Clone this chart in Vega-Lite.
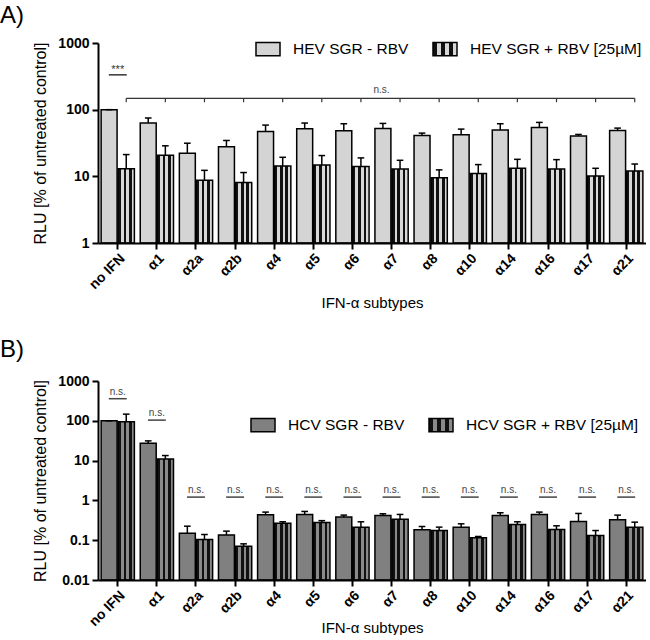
{
  "$schema": "https://vega.github.io/schema/vega-lite/v6.json",
  "padding": {"top": 4, "left": 0, "right": 0, "bottom": 0},
  "background": "white",
  "config": {
    "font": "Liberation Sans",
    "view": {"stroke": null},
    "axis": {"grid": false, "domainColor": "black", "domainWidth": 2, "tickColor": "black", "tickWidth": 2, "tickSize": 6, "labelColor": "black", "titleColor": "black", "labelFontWeight": "bold", "titleFontWeight": "normal"}
  },
  "datasets": {
    "hev": [
      {"g": "no IFN", "s": "HEV SGR - RBV", "m": 100, "e": 100},
      {"g": "no IFN", "s": "HEV SGR + RBV [25µM]", "m": 13.0, "e": 21.2},
      {"g": "α1", "s": "HEV SGR - RBV", "m": 63, "e": 75},
      {"g": "α1", "s": "HEV SGR + RBV [25µM]", "m": 20.7, "e": 28.7},
      {"g": "α2a", "s": "HEV SGR - RBV", "m": 22.2, "e": 31.4},
      {"g": "α2a", "s": "HEV SGR + RBV [25µM]", "m": 8.7, "e": 12.3},
      {"g": "α2b", "s": "HEV SGR - RBV", "m": 27.7, "e": 34.5},
      {"g": "α2b", "s": "HEV SGR + RBV [25µM]", "m": 8.1, "e": 11.4},
      {"g": "α4", "s": "HEV SGR - RBV", "m": 47.1, "e": 58.7},
      {"g": "α4", "s": "HEV SGR + RBV [25µM]", "m": 14.3, "e": 19.3},
      {"g": "α5", "s": "HEV SGR - RBV", "m": 51.7, "e": 63},
      {"g": "α5", "s": "HEV SGR + RBV [25µM]", "m": 14.8, "e": 20.5},
      {"g": "α6", "s": "HEV SGR - RBV", "m": 48.2, "e": 61.5},
      {"g": "α6", "s": "HEV SGR + RBV [25µM]", "m": 14.0, "e": 18.9},
      {"g": "α7", "s": "HEV SGR - RBV", "m": 52.3, "e": 62.2},
      {"g": "α7", "s": "HEV SGR + RBV [25µM]", "m": 12.9, "e": 17.4},
      {"g": "α8", "s": "HEV SGR - RBV", "m": 41.0, "e": 44.5},
      {"g": "α8", "s": "HEV SGR + RBV [25µM]", "m": 9.5, "e": 12.5},
      {"g": "α10", "s": "HEV SGR - RBV", "m": 42.0, "e": 51.1},
      {"g": "α10", "s": "HEV SGR + RBV [25µM]", "m": 11.0, "e": 15.0},
      {"g": "α14", "s": "HEV SGR - RBV", "m": 49.4, "e": 61.5},
      {"g": "α14", "s": "HEV SGR + RBV [25µM]", "m": 13.2, "e": 18.0},
      {"g": "α16", "s": "HEV SGR - RBV", "m": 54.2, "e": 64.4},
      {"g": "α16", "s": "HEV SGR + RBV [25µM]", "m": 12.9, "e": 17.8},
      {"g": "α17", "s": "HEV SGR - RBV", "m": 40.1, "e": 42.5},
      {"g": "α17", "s": "HEV SGR + RBV [25µM]", "m": 10.1, "e": 13.2},
      {"g": "α21", "s": "HEV SGR - RBV", "m": 48.8, "e": 52.9},
      {"g": "α21", "s": "HEV SGR + RBV [25µM]", "m": 12.0, "e": 15.3}
    ],
    "hcv": [
      {"g": "no IFN", "s": "HCV SGR - RBV", "m": 100, "e": 100},
      {"g": "no IFN", "s": "HCV SGR + RBV [25µM]", "m": 94, "e": 147},
      {"g": "α1", "s": "HCV SGR - RBV", "m": 27.4, "e": 31.3},
      {"g": "α1", "s": "HCV SGR + RBV [25µM]", "m": 11.0, "e": 13.4},
      {"g": "α2a", "s": "HCV SGR - RBV", "m": 0.15, "e": 0.225},
      {"g": "α2a", "s": "HCV SGR + RBV [25µM]", "m": 0.104, "e": 0.139},
      {"g": "α2b", "s": "HCV SGR - RBV", "m": 0.136, "e": 0.169},
      {"g": "α2b", "s": "HCV SGR + RBV [25µM]", "m": 0.0706, "e": 0.081},
      {"g": "α4", "s": "HCV SGR - RBV", "m": 0.435, "e": 0.508},
      {"g": "α4", "s": "HCV SGR + RBV [25µM]", "m": 0.268, "e": 0.29},
      {"g": "α5", "s": "HCV SGR - RBV", "m": 0.444, "e": 0.528},
      {"g": "α5", "s": "HCV SGR + RBV [25µM]", "m": 0.28, "e": 0.31},
      {"g": "α6", "s": "HCV SGR - RBV", "m": 0.38, "e": 0.427},
      {"g": "α6", "s": "HCV SGR + RBV [25µM]", "m": 0.213, "e": 0.29},
      {"g": "α7", "s": "HCV SGR - RBV", "m": 0.419, "e": 0.461},
      {"g": "α7", "s": "HCV SGR + RBV [25µM]", "m": 0.338, "e": 0.444},
      {"g": "α8", "s": "HCV SGR - RBV", "m": 0.182, "e": 0.221},
      {"g": "α8", "s": "HCV SGR + RBV [25µM]", "m": 0.175, "e": 0.213},
      {"g": "α10", "s": "HCV SGR - RBV", "m": 0.213, "e": 0.258},
      {"g": "α10", "s": "HCV SGR + RBV [25µM]", "m": 0.115, "e": 0.124},
      {"g": "α14", "s": "HCV SGR - RBV", "m": 0.419, "e": 0.489},
      {"g": "α14", "s": "HCV SGR + RBV [25µM]", "m": 0.248, "e": 0.29},
      {"g": "α16", "s": "HCV SGR - RBV", "m": 0.444, "e": 0.508},
      {"g": "α16", "s": "HCV SGR + RBV [25µM]", "m": 0.186, "e": 0.23},
      {"g": "α17", "s": "HCV SGR - RBV", "m": 0.296, "e": 0.47},
      {"g": "α17", "s": "HCV SGR + RBV [25µM]", "m": 0.131, "e": 0.175},
      {"g": "α21", "s": "HCV SGR - RBV", "m": 0.326, "e": 0.427},
      {"g": "α21", "s": "HCV SGR + RBV [25µM]", "m": 0.213, "e": 0.284}
    ],
    "topstar": [{"g": "no IFN", "y": 333, "t": "***"}],
    "topns": [{"g": "α7", "y": 148, "t": "n.s."}],
    "botns": [
      {"g": "no IFN", "y": 359, "t": "n.s."},
      {"g": "α1", "y": 104, "t": "n.s."},
      {"g": "α2a", "y": 1.21, "t": "n.s."},
      {"g": "α2b", "y": 1.21, "t": "n.s."},
      {"g": "α4", "y": 1.21, "t": "n.s."},
      {"g": "α5", "y": 1.21, "t": "n.s."},
      {"g": "α6", "y": 1.21, "t": "n.s."},
      {"g": "α7", "y": 1.21, "t": "n.s."},
      {"g": "α8", "y": 1.21, "t": "n.s."},
      {"g": "α10", "y": 1.21, "t": "n.s."},
      {"g": "α14", "y": 1.21, "t": "n.s."},
      {"g": "α16", "y": 1.21, "t": "n.s."},
      {"g": "α17", "y": 1.21, "t": "n.s."},
      {"g": "α21", "y": 1.21, "t": "n.s."}
    ]
  },
  "resolve": {"scale": {"fill": "independent", "stroke": "independent"}, "legend": {"fill": "independent", "stroke": "independent"}},
  "spacing": 28,
  "vconcat": [
    {
      "width": 548,
      "height": 200,
      "title": {"text": "A)", "anchor": "start", "frame": "group", "dx": -98, "fontSize": 24, "fontWeight": "normal", "offset": 8, "color": "black"},
      "layer": [
        {
          "data": {"name": "hev"},
          "transform": [{"filter": {"field": "s", "equal": "HEV SGR - RBV"}}],
          "mark": {"type": "rect", "strokeWidth": 1.5},
          "encoding": {
            "x": {"field": "g", "type": "nominal", "bandPosition": 0.0, "scale": {"type": "band", "domain": ["no IFN", "α1", "α2a", "α2b", "α4", "α5", "α6", "α7", "α8", "α10", "α14", "α16", "α17", "α21"], "paddingInner": 0.15, "paddingOuter": 0.08}, "title": "IFN-α subtypes", "axis": {"labelAngle": -45, "labelFontSize": 14, "titleFontSize": 15, "labelPadding": 2, "titleY": 64, "titleBaseline": "alphabetic"}},
            "x2": {"field": "g", "bandPosition": 0.48},
            "y": {"field": "m", "type": "quantitative", "scale": {"type": "log", "domain": [1, 1000], "nice": false}, "title": "RLU [% of untreated control]", "axis": {"values": [1, 10, 100, 1000], "format": "~g", "labelFontSize": 14, "labelPadding": 3, "titleFontSize": 16, "titlePadding": 9}},
            "y2": {"datum": 1},
            "fill": {"field": "s", "type": "nominal", "scale": {"domain": ["HEV SGR - RBV", "HEV SGR + RBV [25µM]"], "range": ["#d4d4d4", {"expr": "{gradient: 'linear', x1: 0, y1: 0, x2: 1, y2: 0, stops: [{offset: 0, color: '#111111'}, {offset: 0.1667, color: '#111111'}, {offset: 0.1667, color: '#d8d8d8'}, {offset: 0.3333, color: '#d8d8d8'}, {offset: 0.3333, color: '#111111'}, {offset: 0.5, color: '#111111'}, {offset: 0.5, color: '#d8d8d8'}, {offset: 0.6667, color: '#d8d8d8'}, {offset: 0.6667, color: '#111111'}, {offset: 0.8333, color: '#111111'}, {offset: 0.8333, color: '#d8d8d8'}, {offset: 1, color: '#d8d8d8'}]}"}]}, "legend": {"orient": "none", "legendX": 157, "legendY": -7, "direction": "horizontal", "title": null, "labelFontSize": 15.5, "labelLimit": 400, "labelColor": "black", "labelOffset": 12, "columnPadding": 21, "symbolType": "M-1,-0.55H1V0.55H-1Z", "symbolSize": 576, "symbolStrokeWidth": 1.5, "symbolOpacity": 1}},
            "stroke": {"field": "s", "type": "nominal", "scale": {"domain": ["HEV SGR - RBV", "HEV SGR + RBV [25µM]"], "range": ["black", "black"]}, "legend": {"orient": "none", "legendX": 157, "legendY": -7, "direction": "horizontal", "title": null, "labelFontSize": 15.5, "labelLimit": 400, "labelColor": "black", "labelOffset": 12, "columnPadding": 21, "symbolType": "M-1,-0.55H1V0.55H-1Z", "symbolSize": 576, "symbolStrokeWidth": 1.5, "symbolOpacity": 1}}
          }
        },
        {
          "data": {"name": "hev"},
          "transform": [{"filter": {"field": "s", "equal": "HEV SGR + RBV [25µM]"}}],
          "mark": {"type": "rect", "strokeWidth": 1.5},
          "encoding": {
            "x": {"field": "g", "type": "nominal", "bandPosition": 0.51, "scale": {"type": "band", "paddingInner": 0.15, "paddingOuter": 0.08}},
            "x2": {"field": "g", "bandPosition": 1.0},
            "y": {"field": "m", "type": "quantitative"},
            "y2": {"datum": 1},
            "fill": {"field": "s", "type": "nominal"},
            "stroke": {"field": "s", "type": "nominal"}
          }
        },
        {
          "data": {"name": "hev"},
          "transform": [{"filter": {"field": "s", "equal": "HEV SGR - RBV"}}],
          "mark": {"type": "rule", "color": "black", "strokeWidth": 1.5},
          "encoding": {"x": {"field": "g", "type": "nominal", "bandPosition": 0.24, "scale": {"type": "band", "paddingInner": 0.15, "paddingOuter": 0.08}}, "y": {"field": "m", "type": "quantitative"}, "y2": {"field": "e"}}
        },
        {
          "data": {"name": "hev"},
          "transform": [{"filter": {"field": "s", "equal": "HEV SGR - RBV"}}],
          "mark": {"type": "rule", "color": "black", "strokeWidth": 1.5},
          "encoding": {"x": {"field": "g", "type": "nominal", "bandPosition": 0.14, "scale": {"type": "band", "paddingInner": 0.15, "paddingOuter": 0.08}}, "x2": {"field": "g", "bandPosition": 0.34}, "y": {"field": "e", "type": "quantitative"}}
        },
        {
          "data": {"name": "hev"},
          "transform": [{"filter": {"field": "s", "equal": "HEV SGR + RBV [25µM]"}}],
          "mark": {"type": "rule", "color": "black", "strokeWidth": 1.5},
          "encoding": {"x": {"field": "g", "type": "nominal", "bandPosition": 0.755, "scale": {"type": "band", "paddingInner": 0.15, "paddingOuter": 0.08}}, "y": {"field": "m", "type": "quantitative"}, "y2": {"field": "e"}}
        },
        {
          "data": {"name": "hev"},
          "transform": [{"filter": {"field": "s", "equal": "HEV SGR + RBV [25µM]"}}],
          "mark": {"type": "rule", "color": "black", "strokeWidth": 1.5},
          "encoding": {"x": {"field": "g", "type": "nominal", "bandPosition": 0.655, "scale": {"type": "band", "paddingInner": 0.15, "paddingOuter": 0.08}}, "x2": {"field": "g", "bandPosition": 0.855}, "y": {"field": "e", "type": "quantitative"}}
        },
        {
          "data": {"name": "hev"},
          "transform": [{"filter": {"field": "s", "equal": "HEV SGR + RBV [25µM]"}}],
          "mark": {"type": "line", "color": "#333333", "strokeWidth": 1.2},
          "encoding": {"x": {"field": "g", "type": "nominal", "bandPosition": 0.755, "scale": {"type": "band", "paddingInner": 0.15, "paddingOuter": 0.08}}, "y": {"datum": 148, "type": "quantitative"}}
        },
        {
          "data": {"name": "hev"},
          "transform": [{"filter": {"field": "s", "equal": "HEV SGR + RBV [25µM]"}}],
          "mark": {"type": "rule", "color": "#333333", "strokeWidth": 1.2},
          "encoding": {"x": {"field": "g", "type": "nominal", "bandPosition": 0.755, "scale": {"type": "band", "paddingInner": 0.15, "paddingOuter": 0.08}}, "y": {"datum": 148, "type": "quantitative"}, "y2": {"datum": 129}}
        },
        {
          "data": {"name": "topns"},
          "mark": {"type": "text", "fontSize": 10, "color": "#444444", "baseline": "bottom", "dy": -3},
          "encoding": {"x": {"field": "g", "type": "nominal", "bandPosition": 0.2, "scale": {"type": "band", "paddingInner": 0.15, "paddingOuter": 0.08}}, "y": {"field": "y", "type": "quantitative"}, "text": {"field": "t"}}
        },
        {
          "data": {"name": "topstar"},
          "mark": {"type": "rule", "color": "#333333", "strokeWidth": 1.5},
          "encoding": {"x": {"field": "g", "type": "nominal", "bandPosition": 0.23, "scale": {"type": "band", "paddingInner": 0.15, "paddingOuter": 0.08}}, "x2": {"field": "g", "bandPosition": 0.77}, "y": {"field": "y", "type": "quantitative"}}
        },
        {
          "data": {"name": "topstar"},
          "mark": {"type": "text", "fontSize": 11, "color": "#333333", "baseline": "bottom", "dy": 0},
          "encoding": {"x": {"field": "g", "type": "nominal", "bandPosition": 0.5, "scale": {"type": "band", "paddingInner": 0.15, "paddingOuter": 0.08}}, "y": {"field": "y", "type": "quantitative"}, "text": {"field": "t"}}
        }
      ]
    },
    {
      "width": 548,
      "height": 199,
      "title": {"text": "B)", "anchor": "start", "frame": "group", "dx": -98, "fontSize": 24, "fontWeight": "normal", "offset": 12, "color": "black"},
      "layer": [
        {
          "data": {"name": "hcv"},
          "transform": [{"filter": {"field": "s", "equal": "HCV SGR - RBV"}}],
          "mark": {"type": "rect", "strokeWidth": 1.5},
          "encoding": {
            "x": {"field": "g", "type": "nominal", "bandPosition": 0.0, "scale": {"type": "band", "domain": ["no IFN", "α1", "α2a", "α2b", "α4", "α5", "α6", "α7", "α8", "α10", "α14", "α16", "α17", "α21"], "paddingInner": 0.15, "paddingOuter": 0.08}, "title": "IFN-α subtypes", "axis": {"labelAngle": -45, "labelFontSize": 14, "titleFontSize": 15, "labelPadding": 2, "titleY": 52, "titleBaseline": "alphabetic"}},
            "x2": {"field": "g", "bandPosition": 0.48},
            "y": {"field": "m", "type": "quantitative", "scale": {"type": "log", "domain": [0.01, 1000], "nice": false}, "title": "RLU [% of untreated control]", "axis": {"values": [0.01, 0.1, 1, 10, 100, 1000], "format": "~g", "labelFontSize": 14, "labelPadding": 3, "titleFontSize": 16, "titlePadding": 9}},
            "y2": {"datum": 0.01},
            "fill": {"field": "s", "type": "nominal", "scale": {"domain": ["HCV SGR - RBV", "HCV SGR + RBV [25µM]"], "range": ["#808080", {"expr": "{gradient: 'linear', x1: 0, y1: 0, x2: 1, y2: 0, stops: [{offset: 0, color: '#111111'}, {offset: 0.1667, color: '#111111'}, {offset: 0.1667, color: '#8a8a8a'}, {offset: 0.3333, color: '#8a8a8a'}, {offset: 0.3333, color: '#111111'}, {offset: 0.5, color: '#111111'}, {offset: 0.5, color: '#8a8a8a'}, {offset: 0.6667, color: '#8a8a8a'}, {offset: 0.6667, color: '#111111'}, {offset: 0.8333, color: '#111111'}, {offset: 0.8333, color: '#8a8a8a'}, {offset: 1, color: '#8a8a8a'}]}"}]}, "legend": {"orient": "none", "legendX": 152, "legendY": 31, "direction": "horizontal", "title": null, "labelFontSize": 15.5, "labelLimit": 400, "labelColor": "black", "labelOffset": 12, "columnPadding": 21, "symbolType": "M-1,-0.55H1V0.55H-1Z", "symbolSize": 576, "symbolStrokeWidth": 1.5, "symbolOpacity": 1}},
            "stroke": {"field": "s", "type": "nominal", "scale": {"domain": ["HCV SGR - RBV", "HCV SGR + RBV [25µM]"], "range": ["black", "black"]}, "legend": {"orient": "none", "legendX": 152, "legendY": 31, "direction": "horizontal", "title": null, "labelFontSize": 15.5, "labelLimit": 400, "labelColor": "black", "labelOffset": 12, "columnPadding": 21, "symbolType": "M-1,-0.55H1V0.55H-1Z", "symbolSize": 576, "symbolStrokeWidth": 1.5, "symbolOpacity": 1}}
          }
        },
        {
          "data": {"name": "hcv"},
          "transform": [{"filter": {"field": "s", "equal": "HCV SGR + RBV [25µM]"}}],
          "mark": {"type": "rect", "strokeWidth": 1.5},
          "encoding": {
            "x": {"field": "g", "type": "nominal", "bandPosition": 0.51, "scale": {"type": "band", "paddingInner": 0.15, "paddingOuter": 0.08}},
            "x2": {"field": "g", "bandPosition": 1.0},
            "y": {"field": "m", "type": "quantitative"},
            "y2": {"datum": 0.01},
            "fill": {"field": "s", "type": "nominal"},
            "stroke": {"field": "s", "type": "nominal"}
          }
        },
        {
          "data": {"name": "hcv"},
          "transform": [{"filter": {"field": "s", "equal": "HCV SGR - RBV"}}],
          "mark": {"type": "rule", "color": "black", "strokeWidth": 1.5},
          "encoding": {"x": {"field": "g", "type": "nominal", "bandPosition": 0.24, "scale": {"type": "band", "paddingInner": 0.15, "paddingOuter": 0.08}}, "y": {"field": "m", "type": "quantitative"}, "y2": {"field": "e"}}
        },
        {
          "data": {"name": "hcv"},
          "transform": [{"filter": {"field": "s", "equal": "HCV SGR - RBV"}}],
          "mark": {"type": "rule", "color": "black", "strokeWidth": 1.5},
          "encoding": {"x": {"field": "g", "type": "nominal", "bandPosition": 0.14, "scale": {"type": "band", "paddingInner": 0.15, "paddingOuter": 0.08}}, "x2": {"field": "g", "bandPosition": 0.34}, "y": {"field": "e", "type": "quantitative"}}
        },
        {
          "data": {"name": "hcv"},
          "transform": [{"filter": {"field": "s", "equal": "HCV SGR + RBV [25µM]"}}],
          "mark": {"type": "rule", "color": "black", "strokeWidth": 1.5},
          "encoding": {"x": {"field": "g", "type": "nominal", "bandPosition": 0.755, "scale": {"type": "band", "paddingInner": 0.15, "paddingOuter": 0.08}}, "y": {"field": "m", "type": "quantitative"}, "y2": {"field": "e"}}
        },
        {
          "data": {"name": "hcv"},
          "transform": [{"filter": {"field": "s", "equal": "HCV SGR + RBV [25µM]"}}],
          "mark": {"type": "rule", "color": "black", "strokeWidth": 1.5},
          "encoding": {"x": {"field": "g", "type": "nominal", "bandPosition": 0.655, "scale": {"type": "band", "paddingInner": 0.15, "paddingOuter": 0.08}}, "x2": {"field": "g", "bandPosition": 0.855}, "y": {"field": "e", "type": "quantitative"}}
        },
        {
          "data": {"name": "botns"},
          "mark": {"type": "rule", "color": "#444444", "strokeWidth": 1.5},
          "encoding": {"x": {"field": "g", "type": "nominal", "bandPosition": 0.23, "scale": {"type": "band", "paddingInner": 0.15, "paddingOuter": 0.08}}, "x2": {"field": "g", "bandPosition": 0.77}, "y": {"field": "y", "type": "quantitative"}}
        },
        {
          "data": {"name": "botns"},
          "mark": {"type": "text", "fontSize": 10, "color": "#444444", "baseline": "bottom", "dy": -2},
          "encoding": {"x": {"field": "g", "type": "nominal", "bandPosition": 0.5, "scale": {"type": "band", "paddingInner": 0.15, "paddingOuter": 0.08}}, "y": {"field": "y", "type": "quantitative"}, "text": {"field": "t"}}
        }
      ]
    }
  ]
}
